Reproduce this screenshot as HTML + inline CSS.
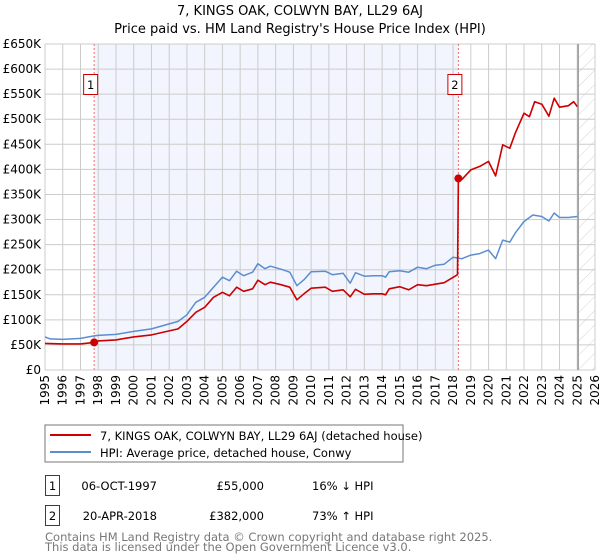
<!DOCTYPE html>
<html><head><meta charset="utf-8"><style>
body{margin:0;background:#fff;font-family:"DejaVu Sans","Liberation Sans",sans-serif;}
svg{display:block}
</style></head><body>
<svg id="c" width="600" height="560" xmlns="http://www.w3.org/2000/svg" font-family="DejaVu Sans, Liberation Sans, sans-serif">
<text x="300" y="15" text-anchor="middle" font-size="13">7, KINGS OAK, COLWYN BAY, LL29 6AJ</text>
<text x="300" y="33" text-anchor="middle" font-size="13">Price paid vs. HM Land Registry's House Price Index (HPI)</text>
<g id="plot"></g>
<rect x="45" y="425" width="358" height="37" fill="#fff" stroke="#777"/>
<line x1="50" y1="435" x2="91" y2="435" stroke="#cc0000" stroke-width="2"/>
<text x="100" y="440" font-size="11.5">7, KINGS OAK, COLWYN BAY, LL29 6AJ (detached house)</text>
<line x1="50" y1="452" x2="91" y2="452" stroke="#5b8dd0" stroke-width="2"/>
<text x="100" y="457" font-size="11.5">HPI: Average price, detached house, Conwy</text>
<g font-size="11.5">
<rect x="45.5" y="475.5" width="14" height="20" fill="#fff" stroke="#cc0000"/>
<text x="52.5" y="490" text-anchor="middle">1</text>
<text x="157" y="490" text-anchor="end">06-OCT-1997</text>
<text x="264" y="490" text-anchor="end">£55,000</text>
<text x="312" y="490">16% ↓ HPI</text>
<rect x="45.5" y="505.5" width="14" height="20" fill="#fff" stroke="#cc0000"/>
<text x="52.5" y="520" text-anchor="middle">2</text>
<text x="157" y="520" text-anchor="end">20-APR-2018</text>
<text x="264" y="520" text-anchor="end">£382,000</text>
<text x="312" y="520">73% ↑ HPI</text>
</g>
<text x="45" y="541" font-size="11.5" fill="#777">Contains HM Land Registry data © Crown copyright and database right 2025.</text>
<text x="45" y="551" font-size="11.5" fill="#777">This data is licensed under the Open Government Licence v3.0.</text>
</svg>
<script>
const hpiYears=[1995,1995.3,1996,1997,1997.77,1998,1999,2000,2001,2002,2002.5,2003,2003.5,2004,2004.5,2005,2005.4,2005.8,2006.2,2006.7,2007,2007.4,2007.7,2008.3,2008.8,2009.2,2009.6,2010,2010.8,2011.2,2011.8,2012.2,2012.5,2013,2013.5,2014,2014.2,2014.4,2015,2015.5,2016,2016.5,2017,2017.5,2018,2018.5,2019,2019.5,2020,2020.4,2020.8,2021.2,2021.5,2022,2022.5,2023,2023.4,2023.7,2024,2024.5,2025];
const hpiValues=[66,62,61,63,68,69,71,77,82,92,97,110,135,145,165,185,178,197,188,195,212,202,207,201,195,168,180,196,197,190,193,173,194,187,188,188,185,196,198,195,205,202,209,211,225,222,229,232,239,222,259,255,273,296,309,306,297,313,304,304,306];
const priceYears=[1995,1996,1997,1997.77,1998,1999,2000,2001,2002,2002.5,2003,2003.5,2004,2004.5,2005,2005.4,2005.8,2006.2,2006.7,2007,2007.4,2007.7,2008.3,2008.8,2009.2,2009.6,2010,2010.8,2011.2,2011.8,2012.2,2012.5,2013,2013.5,2014,2014.2,2014.4,2015,2015.5,2016,2016.5,2017,2017.5,2018.25,2018.3,2018.5,2019,2019.5,2020,2020.4,2020.8,2021.2,2021.5,2022,2022.3,2022.6,2023,2023.4,2023.7,2024,2024.5,2024.8,2025];
const priceValues=[53,52,52,55,58,60,66,70,78,82,97,115,125,145,155,148,165,157,162,179,170,175,170,165,140,152,163,165,157,160,146,161,151,152,152,150,162,166,160,170,168,171,174,190,382,380,399,406,416,387,449,442,472,512,505,535,530,506,542,524,527,535,525];
const sales=[[1997.77,55],[2018.3,382]];
const yTicks=[0,50,100,150,200,250,300,350,400,450,500,550,600,650];
const xTicks=[1995,1996,1997,1998,1999,2000,2001,2002,2003,2004,2005,2006,2007,2008,2009,2010,2011,2012,2013,2014,2015,2016,2017,2018,2019,2020,2021,2022,2023,2024,2025,2026];
const L=45,R=595,T=44,B=370;
const x=v=>L+(v-1995)/(2026-1995)*(R-L);
const y=v=>B-v/650*(B-T);
const NS="http://www.w3.org/2000/svg";
const g=document.getElementById('plot');
function mk(t,a){const e=document.createElementNS(NS,t);for(const k in a)e.setAttribute(k,a[k]);g.appendChild(e);return e;}
const bg=mk('rect',{x:x(sales[0][0]),y:T,width:x(sales[1][0])-x(sales[0][0]),height:B-T,fill:'#f2f5fd'});


const defs=document.createElementNS(NS,'defs');
defs.innerHTML='<pattern id="h" width="10" height="10" patternUnits="userSpaceOnUse" patternTransform="rotate(45)"><line x1="0" y1="0" x2="0" y2="10" stroke="#d4d4d4" stroke-width="1"/></pattern>';
g.appendChild(defs);
const hx=x(2025.05);
const hat=mk('rect',{x:hx,y:T,width:R-hx,height:B-T,fill:'url(#h)'});


yTicks.forEach(v=>{
 const l=mk('line',{x1:L,x2:R,y1:y(v),y2:y(v),stroke:'#ccc'});
 
 
 const t=mk('text',{x:L-4,y:y(v)+4,'text-anchor':'end','font-size':'12'});
 t.textContent=v===0?'£0':'£'+v+'K';
 
 
});
xTicks.forEach(v=>{
 const l=mk('line',{x1:x(v),x2:x(v),y1:T,y2:B,stroke:'#ccc'});
 
 
 const t=mk('text',{x:0,y:0,'font-size':'12','text-anchor':'end',transform:`translate(${x(v)+4},${B+5}) rotate(-90)`});
 t.textContent=v;
 
 
});
const vl=mk('line',{x1:hx,x2:hx,y1:T,y2:B,stroke:'#999','stroke-width':1.5});


sales.forEach((s,i)=>{
 const d=mk('line',{x1:x(s[0]),x2:x(s[0]),y1:T,y2:B,stroke:'#f07070','stroke-dasharray':'2,2'});
 
 
 const bx=x(s[0])-11;
 const r=mk('rect',{x:bx+0.5,y:74.5,width:14,height:20,fill:'#fff',stroke:'#cc0000'});
 
 
 const t=mk('text',{x:bx+7.5,y:89,'text-anchor':'middle','font-size':'11.5'});
 t.textContent=i+1;
 
 
});
function path(xs,vs,col,name,w){
 const p=mk('path',{d:xs.map((v,i)=>(i?'L':'M')+x(v).toFixed(1)+','+y(vs[i]).toFixed(1)).join(''),fill:'none',stroke:col,'stroke-width':w,'stroke-linejoin':'round'});
 
 
}
path(hpiYears,hpiValues,'#5b8dd0','hpi-line',1.5);
path(priceYears,priceValues,'#cc0000','price-line',1.6);
sales.forEach((s,i)=>{
 const c=mk('circle',{cx:x(s[0]),cy:y(s[1]),r:4,fill:'#cc0000'});
 
 
});
</script>
</body></html>
